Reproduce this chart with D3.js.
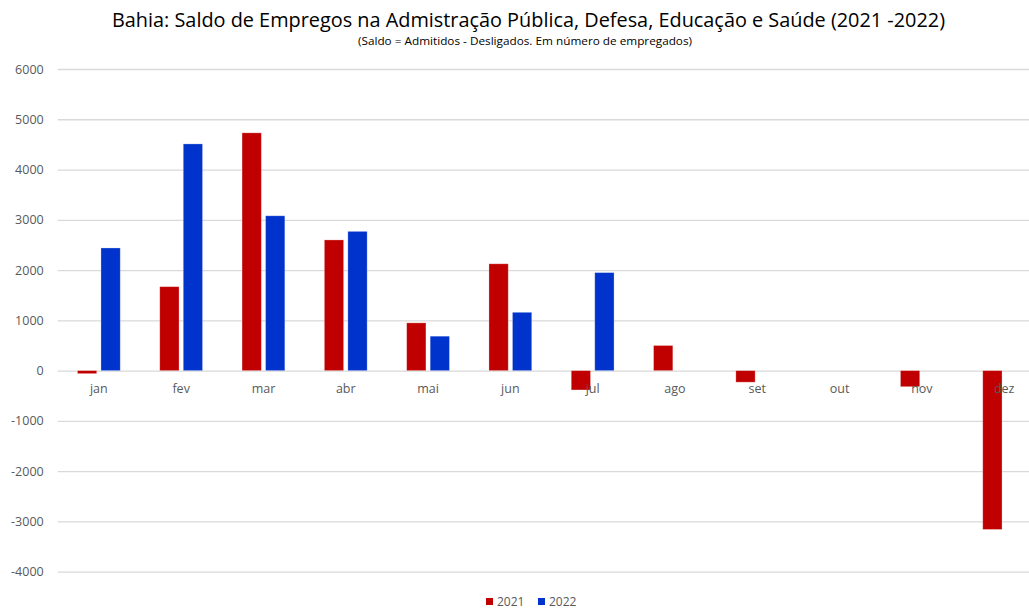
<!DOCTYPE html>
<html>
<head>
<meta charset="utf-8">
<script src="https://cdn.jsdelivr.net/npm/d3@7"></script>
<style>
  body { margin: 0; background: #fff; }
  svg { display: block; overflow: hidden; }
</style>
</head>
<body>
<svg></svg>
<script>
// data
const months = ["jan", "fev", "mar", "abr", "mai", "jun", "jul", "ago", "set", "out", "nov", "dez"];
const series = ["2021", "2022"];
const saldo2021 = [-60, 1670, 4730, 2600, 950, 2125, -385, 500, -230, 0, -320, -3160];
const saldo2022 = [2440, 4510, 3080, 2770, 685, 1160, 1950, null, null, null, null, null];
const yTicks = [-4000, -3000, -2000, -1000, 0, 1000, 2000, 3000, 4000, 5000, 6000];
const colors = ["#C00000", "#0033CC"];

let width = 1029;
let height = 609;
let font = "'Open Sans', 'DejaVu Sans', sans-serif";
let svg = d3.select('svg').attr('width', width).attr('height', height);

let xScale = d3.scaleBand()
               .domain(months)
               .range([57.7, 57.7 + 12 * 82.3])
               .padding(0);

let xInner = d3.scaleBand()
               .domain(series)
               .range([0, xScale.bandwidth()])
               .paddingInner(0.18)
               .paddingOuter(0.84);

let yScale = d3.scaleLinear()
               .domain([-4000, 6000])
               .range([571.7, 69]);

const colorScale = d3.scaleOrdinal().domain(series).range(colors);

// title
svg.append('text')
   .attr('x', 528.5)
   .attr('y', 27)
   .attr('text-anchor', 'middle')
   .attr('font-family', font)
   .attr('font-size', 20)
   .attr('fill', '#000')
   .attr('textLength', 833)
   .attr('lengthAdjust', 'spacingAndGlyphs')
   .text("Bahia: Saldo de Empregos na Admistração Pública, Defesa, Educação e Saúde (2021 -2022)");

svg.append('text')
   .attr('x', 525)
   .attr('y', 45)
   .attr('text-anchor', 'middle')
   .attr('font-family', font)
   .attr('font-size', 10)
   .attr('fill', '#000')
   .attr('textLength', 334)
   .attr('lengthAdjust', 'spacingAndGlyphs')
   .text("(Saldo = Admitidos - Desligados. Em número de empregados)");

// gridlines + y axis
let yAxis = d3.axisLeft(yScale)
              .tickValues(yTicks)
              .tickSize(-(xScale.range()[1] - xScale.range()[0]))
              .tickPadding(14)
              .tickFormat(d => String(d));

let gy = svg.append('g')
   .attr('id', 'y-axis')
   .attr('transform', 'translate(' + xScale.range()[0] + ',0)')
   .call(yAxis);
gy.select('.domain').remove();
gy.selectAll('.tick line').attr('stroke', '#d9d9d9').attr('stroke-width', 1.3);
gy.selectAll('.tick text')
  .attr('font-family', font)
  .attr('font-size', 12.5)
  .attr('fill', '#595959');

// bars
const rows = months.map((m, i) => ({ month: m, values: [
  { key: series[0], v: saldo2021[i] },
  { key: series[1], v: saldo2022[i] }
].filter(d => d.v !== null) }));

svg.append('g')
   .selectAll('g')
   .data(rows)
   .enter()
   .append('g')
   .attr('transform', d => 'translate(' + xScale(d.month) + ',0)')
   .selectAll('rect')
   .data(d => d.values)
   .enter()
   .append('rect')
   .attr('x', d => xInner(d.key))
   .attr('width', xInner.bandwidth())
   .attr('y', d => yScale(Math.max(0, d.v)))
   .attr('height', d => Math.abs(yScale(d.v) - yScale(0)))
   .attr('fill', d => colorScale(d.key))
   .attr('stroke', '#fff')
   .attr('stroke-opacity', 0.35)
   .attr('stroke-width', 0.8);

// category axis (labels sit below zero line)
let xAxis = d3.axisBottom(xScale).tickSize(0).tickPadding(14);
let gx = svg.append('g')
   .attr('id', 'x-axis')
   .attr('transform', 'translate(0,' + yScale(0) + ')')
   .call(xAxis);
gx.select('.domain').remove();
gx.selectAll('.tick text')
  .attr('font-family', font)
  .attr('font-size', 12.5)
  .attr('fill', '#595959');

// legend
let legend = svg.append('g').attr('transform', 'translate(486,598)');
let items = legend.selectAll('g')
   .data(series)
   .enter()
   .append('g')
   .attr('transform', (d, i) => 'translate(' + (i * 52) + ',0)');
items.append('rect')
   .attr('width', 7)
   .attr('height', 7)
   .attr('fill', d => colorScale(d));
items.append('text')
   .attr('x', 11)
   .attr('y', 7.5)
   .attr('font-family', font)
   .attr('font-size', 12)
   .attr('fill', '#595959')
   .text(d => d);
</script>
</body>
</html>
